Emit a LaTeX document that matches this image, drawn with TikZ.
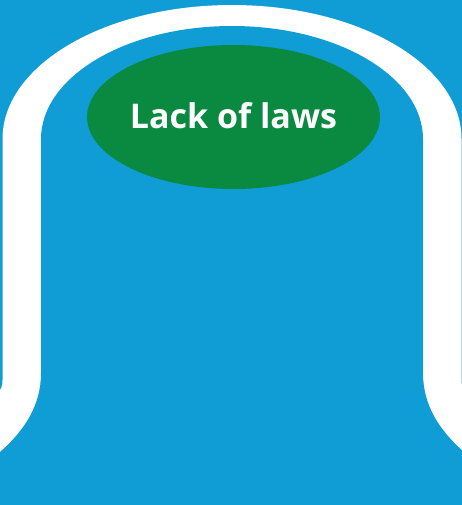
\documentclass[tikz,border=0pt]{standalone}
\usepackage{fontspec}
\setmainfont{Open Sans}
\usetikzlibrary{shapes.geometric}
\definecolor{bgblue}{RGB}{16,157,214}
\definecolor{lawgreen}{RGB}{10,138,64}
\tikzset{
  lawell/.style={ellipse, fill=lawgreen, draw=none, inner sep=0pt,
    minimum width=291pt, minimum height=144pt, text=white,
    font=\fontsize{34}{36}\selectfont\bfseries, text height=24pt, text depth=0pt}
}
\begin{document}
\begin{tikzpicture}[x=1pt,y=-1pt]
\useasboundingbox (0,0) rectangle (462,505);
\begin{scope}
\clip (0,0) rectangle (462,505);
\fill[bgblue] (0,0) rectangle (462,505);
% white outer arch
\fill[white] (-10,470) -- (-10,395) -- (-1,392) .. controls (1,389) and (2.5,386) .. (2.5,380)
  -- (2.5,139) arc[start angle=180, end angle=360, x radius=229.5, y radius=134]
  -- (461.5,380) .. controls (461.5,386) and (463,389) .. (465,392) -- (474,395) -- (474,470) -- cycle;
% inner blue region
\fill[bgblue] (-10,520) -- (-10,460) -- (0,452) .. controls (25,430) and (41,405) .. (41,373)
  -- (41,139) arc[start angle=180, end angle=360, x radius=191, y radius=113]
  -- (423,373) .. controls (423,405) and (439,430) .. (464,452) -- (474,460) -- (474,520) -- cycle;
\end{scope}
\node[lawell] (lack) at (233.5,117) {Lack of laws};
\end{tikzpicture}
\end{document}
